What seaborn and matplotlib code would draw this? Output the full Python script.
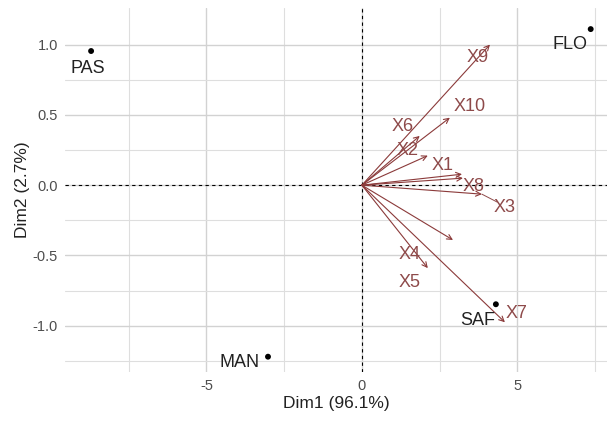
import numpy as np
import pandas as pd
import matplotlib
matplotlib.use("Agg")
import matplotlib.pyplot as plt
import seaborn as sns

# individuals (PCA scores)
ind_names = ["PAS", "FLO", "MAN", "SAF"]
ind_dim1 = [-8.71, 7.36, -3.02, 4.31]
ind_dim2 = [0.954, 1.11, -1.22, -0.847]

# variables (arrow tips)
var_names = ["X1", "X2", "X3", "X4", "X5", "X6", "X7", "X8", "X9", "X10"]
var_dim1 = [3.22, 2.12, 3.86, 2.93, 2.12, 1.86, 4.60, 3.25, 4.12, 2.83]
var_dim2 = [0.078, 0.21, -0.064, -0.39, -0.59, 0.35, -0.975, 0.05, 1.00, 0.48]

xlab = "Dim1 (96.1%)"
ylab = "Dim2 (2.7%)"

# label placement (repelled positions)
ind_lab_pos = {"PAS": (-8.81, 0.83), "FLO": (6.69, 1.0), "MAN": (-3.92, -1.26), "SAF": (3.73, -0.96)}
var_lab_pos = {
    "X1": (2.6, 0.14), "X2": (1.48, 0.25), "X3": (4.6, -0.16), "X4": (1.54, -0.49),
    "X5": (1.54, -0.69), "X6": (1.32, 0.42), "X7": (4.98, -0.91), "X8": (3.6, -0.01),
    "X9": (3.73, 0.91), "X10": (3.47, 0.56),
}

var_col = "#8B3A3A"
lab_col = "#8E4A4A"

ind = pd.DataFrame({"name": ind_names, "Dim1": ind_dim1, "Dim2": ind_dim2})
var = pd.DataFrame({"name": var_names, "Dim1": var_dim1, "Dim2": var_dim2})

sns.set_theme(style="whitegrid")
plt.rcParams["font.family"] = ["Liberation Sans", "DejaVu Sans"]

fig = plt.figure(figsize=(6.13, 4.21), dpi=100)
ax = fig.add_axes([0.106, 0.116, 0.884, 0.865])
ax.set_facecolor("white")

ax.set_xlim(-9.55, 7.88)
ax.set_ylim(-1.33, 1.26)
ax.set_xticks([-5, 0, 5])
ax.set_xticks([-7.5, -2.5, 2.5, 7.5], minor=True)
ax.set_yticks([-1.0, -0.5, 0.0, 0.5, 1.0])
ax.set_yticks([-1.25, -0.75, -0.25, 0.25, 0.75], minor=True)
ax.set_xticklabels(["-5", "0", "5"])
ax.set_yticklabels(["-1.0", "-0.5", "0.0", "0.5", "1.0"])
ax.grid(which="major", color="#d2d2d2", lw=1.0)
ax.grid(which="minor", color="#dedede", lw=0.8)
for s in ax.spines.values():
    s.set_visible(False)
ax.tick_params(which="major", length=3, color="#bbbbbb", labelsize=10.5, labelcolor="#4d4d4d", pad=2)
ax.tick_params(which="minor", length=0)

ax.axhline(0, color="black", ls=(0, (3, 3)), lw=0.8, zorder=2)
ax.axvline(0, color="black", ls=(0, (3, 3)), lw=0.8, zorder=2)

sns.scatterplot(data=ind, x="Dim1", y="Dim2", color="black", s=18, edgecolor="none", ax=ax, zorder=4)
for _, r in ind.iterrows():
    lx, ly = ind_lab_pos[r["name"]]
    ax.text(lx, ly, r["name"], ha="center", va="center", fontsize=13, color="#222222", zorder=5)

for _, r in var.iterrows():
    ax.annotate("", xy=(r["Dim1"], r["Dim2"]), xytext=(0, 0),
                arrowprops=dict(arrowstyle="->", color=var_col, lw=0.8, mutation_scale=9,
                                shrinkA=0, shrinkB=0), zorder=3)
    lx, ly = var_lab_pos[r["name"]]
    if r["name"] == "X3":
        ax.plot([r["Dim1"], lx - 0.25], [r["Dim2"], ly + 0.04], color=lab_col, lw=0.7, zorder=3)
    ax.text(lx, ly, r["name"], ha="center", va="center", fontsize=13, color=lab_col, zorder=5)

ax.set_xlabel(xlab, fontsize=12.5, color="#222222", labelpad=2)
ax.set_ylabel(ylab, fontsize=12.5, color="#222222", labelpad=2)

fig.savefig("out.png", dpi=100)
